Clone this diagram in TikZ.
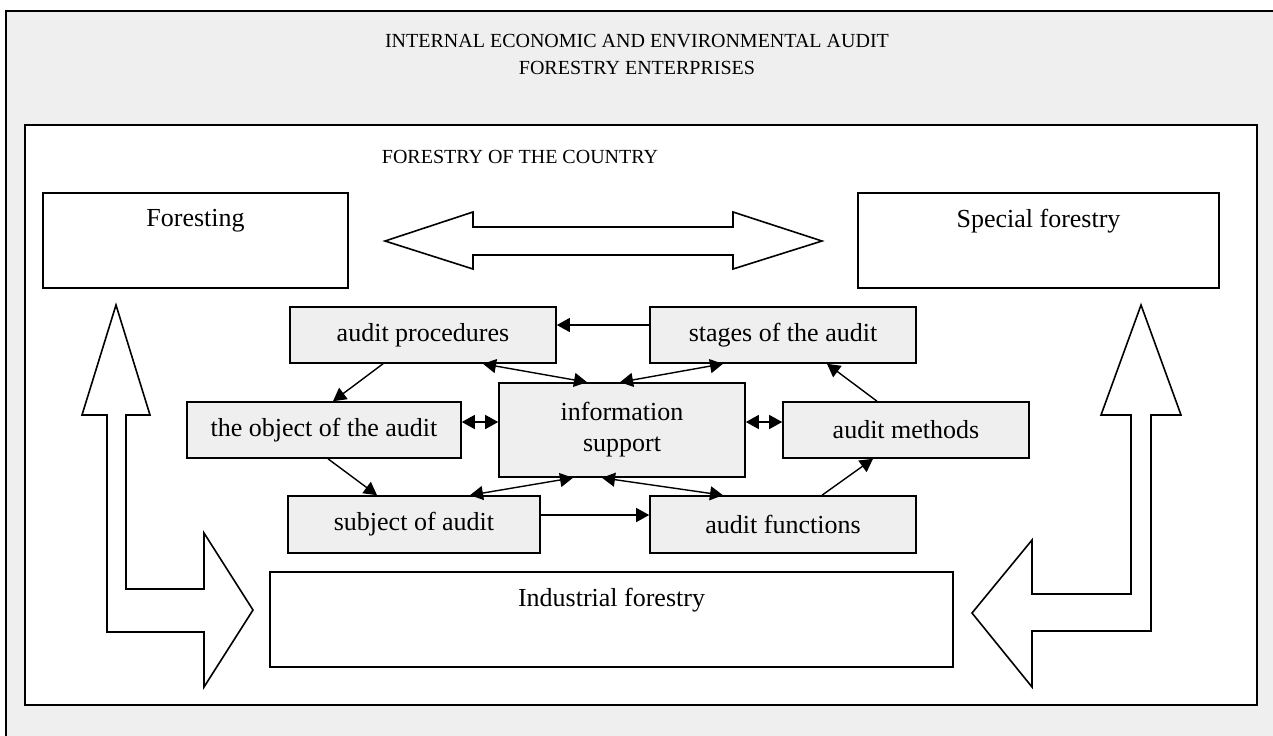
\documentclass[tikz,border=0pt]{standalone}
\usepackage{fontspec}
\setmainfont{Liberation Serif}
\usetikzlibrary{arrows.meta,positioning}
\definecolor{panel}{gray}{0.937}

\begin{document}
\begin{tikzpicture}[x=0.5pt,y=-0.5pt,>={Triangle[length=6.5pt,width=7pt]},on grid,font=\fontsize{13}{15.6}\selectfont]
				\tikzset{auditbox/.style={draw,line width=0.8pt,fill=panel,inner sep=2pt,minimum height=28pt},
				         sectorbox/.style={draw,line width=0.8pt,fill=white,minimum height=47.5pt},
				         capstext/.style={font=\fontsize{10}{12}\selectfont},
				         blockarrow/.style={draw,line width=0.8pt,fill=white,line join=miter},
				         mylink/.style={line width=0.7pt,->},
				         twolink/.style={line width=0.7pt,<->}}
				  \useasboundingbox (0,0) rectangle (1273,735);
				  \fill[white] (0,0) rectangle (1273,735);
				  \clip (0,0) rectangle (1273,735);
				  \draw[line width=0.8pt,fill=panel] (6,11) rectangle (1290,750);
				  \draw[line width=0.8pt,fill=white] (25,125) rectangle (1257,705);
				  \node[capstext] (title1) at (637,41) {INTERNAL ECONOMIC AND ENVIRONMENTAL AUDIT};
				  \node[capstext] (title2) at (637,68) {FORESTRY ENTERPRISES};
				  \node[capstext] (country) at (520,157) {FORESTRY OF THE COUNTRY};

				  \node[sectorbox,minimum width=152.5pt,label={[anchor=north,yshift=-5pt]north:Foresting}] (foresting) at (195.5,240.5) {};
				  \node[sectorbox,minimum width=180.5pt,label={[anchor=north,yshift=-5pt]north:Special forestry}] (special) at (1038.5,240.5) {};
				  \node[sectorbox,minimum width=341.5pt,label={[anchor=north,yshift=-5pt]north:Industrial forestry}] (industrial) at (611.5,619.5) {};

				  \node[auditbox,minimum width=123pt,minimum height=47pt,align=center] (info) at (622,430) {information\\support};
				  \node[auditbox,minimum width=133pt] (procedures) [above left =47.5pt and 99.5pt of info] {audit procedures};
				  \node[auditbox,minimum width=133pt] (stages) [above right =47.5pt and 80.5pt of info] {stages of the audit};
				  \node[auditbox,minimum width=137pt] (object) [left =149pt of info] {the object of the audit};
				  \node[auditbox,minimum width=123pt] (methods) [right =142pt of info] {audit methods};
				  \node[auditbox,minimum width=126pt,minimum height=28.5pt] (subject) [below left =47.25pt and 104pt of info] {subject of audit};
				  \node[auditbox,minimum width=133pt,minimum height=28.5pt] (functions) [below right =47.25pt and 80.5pt of info] {audit functions};

				  \draw[blockarrow] (385,241) -- (473,212) -- (473,227) -- (733,227) -- (733,212) -- (822,241)
				        -- (733,269) -- (733,255) -- (473,255) -- (473,269) -- cycle;
				  \draw[blockarrow] (116,305) -- (150,415) -- (126,415) -- (126,589) -- (204,589) -- (204,533) -- (253,610)
				        -- (204,687) -- (204,632) -- (107,632) -- (107,415) -- (82,415) -- cycle;
				  \draw[blockarrow] (1141,305) -- (1181,415) -- (1151,415) -- (1151,631) -- (1032,631) -- (1032,687) -- (972,613)
				        -- (1032,540) -- (1032,594) -- (1131,594) -- (1131,415) -- (1101,415) -- cycle;

				\path ([yshift=5pt]stages.west)          edge [mylink]   ([yshift=5pt]procedures.east)
					  ([xshift=-20pt]procedures.south)   edge [mylink]   ([xshift=4.5pt]object.north)
					  ([xshift=2pt]object.south)         edge [mylink]   ([xshift=-18.5pt]subject.north)
					  ([yshift=4.75pt]subject.east)      edge [mylink]   ([yshift=4.75pt]functions.west)
					  ([xshift=19.5pt]functions.north)   edge [mylink]   ([xshift=-16.5pt]methods.south)
					  ([xshift=-14.5pt]methods.north)    edge [mylink]   ([xshift=22pt]stages.south)
					  ([xshift=-17.5pt]info.north)       edge [twolink]  ([xshift=30pt]procedures.south)
					  ([xshift=-1pt]info.north)          edge [twolink]  ([xshift=-30pt]stages.south)
					  ([xshift=-24.5pt]info.south)       edge [twolink]  ([xshift=28pt]subject.north)
					  ([xshift=-10pt]info.south)         edge [twolink]  ([xshift=-30pt]functions.north)
					  ([yshift=4pt]object.east)          edge [twolink]  ([yshift=4pt]info.west)
					  ([yshift=4pt]methods.west)         edge [twolink]  ([yshift=4pt]info.east);
			\end{tikzpicture}
\end{document}
